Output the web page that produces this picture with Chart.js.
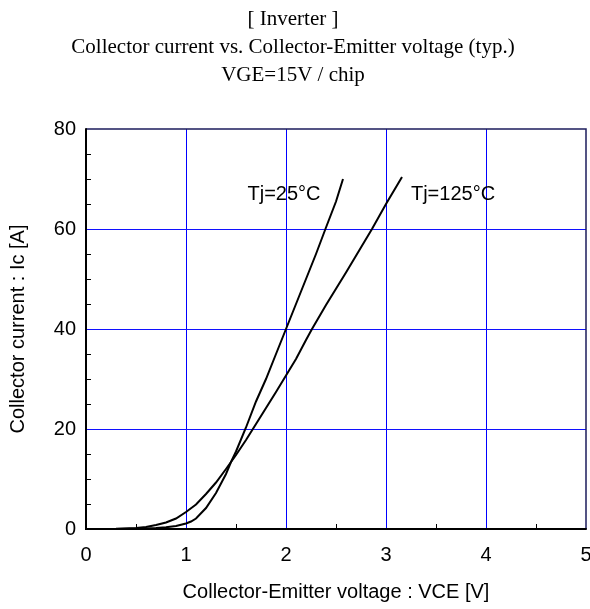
<!DOCTYPE html>
<html>
<head>
<meta charset="utf-8">
<script src="https://cdn.jsdelivr.net/npm/chart.js@4/dist/chart.umd.min.js"></script>
<style>
  html, body { margin: 0; padding: 0; background: #fff; overflow: hidden; }
  #c { display: block; }
</style>
</head>
<body>
<canvas id="c" width="590" height="609"></canvas>
<script>
// ---- data ----
const titleLines = ["[ Inverter ]", "Collector current vs. Collector-Emitter voltage (typ.)", "VGE=15V / chip"];
const xTitle = "Collector-Emitter voltage : VCE [V]";
const yTitle = "Collector current : Ic [A]";
const xTickValues = [0, 1, 2, 3, 4, 5];
const yTickValues = [0, 20, 40, 60, 80];
const xMinorTicks = [0.5, 1.5, 2.5, 3.5, 4.5];
const yMinorTicks = [5, 10, 15, 25, 30, 35, 45, 50, 55, 65, 70, 75];

const vce25 = [0, 0.3, 0.5, 0.6, 0.7, 0.8, 0.9, 1.0, 1.05, 1.1, 1.2, 1.3, 1.4, 1.45, 1.5, 1.6, 1.7, 1.8, 1.9, 2.0, 2.1, 2.2, 2.3, 2.4, 2.5, 2.57];
const ic25  = [0, 0, 0.05, 0.1, 0.2, 0.35, 0.6, 1.1, 1.5, 2.1, 4.2, 7.2, 11.0, 13.4, 15.5, 20.3, 25.5, 30.0, 35.0, 40.0, 45.0, 50.0, 55.0, 60.3, 65.5, 70.0];

const vce125 = [0, 0.3, 0.5, 0.6, 0.7, 0.8, 0.9, 1.0, 1.1, 1.2, 1.3, 1.4, 1.45, 1.5, 1.6, 1.7, 1.8, 1.9, 2.0, 2.1, 2.2, 2.26, 2.4, 2.6, 2.86, 3.0, 3.16];
const ic125  = [0, 0.05, 0.2, 0.4, 0.8, 1.3, 2.1, 3.4, 4.9, 7.0, 9.3, 12.0, 13.4, 14.8, 17.8, 21.0, 24.2, 27.4, 30.7, 34.0, 37.8, 40.0, 44.8, 51.3, 60.0, 65.0, 70.4];

const seriesLabels = ["Tj=25°C", "Tj=125°C"];
const labelAnchorV = [1.98, 3.67];
const labelAnchorI = [67, 67];

// ---- build ----
const toPts = (xs, ys) => xs.map((x, i) => ({ x: x, y: ys[i] }));
const SANS = '"Liberation Sans", Arial, sans-serif';
const SERIF = '"Liberation Serif", "Times New Roman", serif';
const NONE = 'rgba(0,0,0,0)';
const edgeHidden = (vals, col) => vals.map((v, i) => (i === 0 || i === vals.length - 1) ? NONE : col);

const decorPlugin = {
  id: 'decor',
  beforeDatasetsDraw(chart) {
    const { ctx, chartArea: a, scales: { x, y } } = chart;
    ctx.save();
    // minor ticks (inward)
    ctx.strokeStyle = '#000';
    ctx.lineWidth = 1;
    ctx.beginPath();
    yMinorTicks.forEach(v => {
      const py = Math.round(y.getPixelForValue(v)) + 0.5;
      ctx.moveTo(a.left, py); ctx.lineTo(a.left + 5, py);
    });
    xMinorTicks.forEach(v => {
      const px = Math.round(x.getPixelForValue(v)) + 0.5;
      ctx.moveTo(px, a.bottom); ctx.lineTo(px, a.bottom - 5);
    });
    ctx.stroke();
    // frame: top & right dark navy, left & bottom black
    ctx.strokeStyle = '#1c1c5c';
    ctx.lineWidth = 1.5;
    ctx.beginPath();
    ctx.moveTo(a.left, a.top); ctx.lineTo(a.right, a.top); ctx.lineTo(a.right, a.bottom);
    ctx.stroke();
    ctx.strokeStyle = '#000';
    ctx.lineWidth = 2;
    ctx.beginPath();
    ctx.moveTo(a.left, a.top - 0.75); ctx.lineTo(a.left, a.bottom); ctx.lineTo(a.right + 0.75, a.bottom);
    ctx.stroke();
    ctx.restore();
  },
  afterDatasetsDraw(chart) {
    const { ctx, scales: { x, y } } = chart;
    ctx.save();
    ctx.fillStyle = '#000';
    ctx.font = '20px ' + SANS;
    ctx.textAlign = 'center';
    ctx.textBaseline = 'middle';
    seriesLabels.forEach((t, i) => {
      ctx.fillText(t, x.getPixelForValue(labelAnchorV[i]), y.getPixelForValue(labelAnchorI[i]));
    });
    ctx.restore();
  }
};

new Chart(document.getElementById('c'), {
  type: 'line',
  data: {
    datasets: [
      { label: seriesLabels[0], data: toPts(vce25, ic25), borderColor: '#000', borderWidth: 2, pointRadius: 0, fill: false, tension: 0 },
      { label: seriesLabels[1], data: toPts(vce125, ic125), borderColor: '#000', borderWidth: 2, pointRadius: 0, fill: false, tension: 0 }
    ]
  },
  options: {
    responsive: false,
    animation: false,
    events: [],
    layout: { padding: { right: 4 } },
    plugins: {
      legend: { display: false },
      tooltip: { enabled: false },
      title: {
        display: true,
        text: titleLines,
        color: '#000',
        font: { family: SERIF, size: 21, weight: 'normal', lineHeight: 28 / 21 },
        padding: { top: 5, bottom: 40 }
      }
    },
    scales: {
      x: {
        type: 'linear',
        min: 0, max: 5,
        afterBuildTicks: (s) => { s.ticks = xTickValues.map(v => ({ value: v })); },
        ticks: { color: '#000', font: { family: SANS, size: 20 }, padding: 14, maxRotation: 0 },
        grid: { color: edgeHidden(xTickValues, '#0000ff'), lineWidth: 1, drawTicks: false },
        border: { display: false },
        title: { display: true, text: xTitle, color: '#000', font: { family: SANS, size: 20 }, padding: { top: 0, bottom: 5 } },
        afterFit: (s) => { s.height = 80; s.paddingLeft = 0; s.paddingRight = 0; }
      },
      y: {
        type: 'linear',
        min: 0, max: 80,
        afterBuildTicks: (s) => { s.ticks = yTickValues.map(v => ({ value: v })); },
        ticks: { color: '#000', font: { family: SANS, size: 20 }, padding: 10 },
        grid: { color: edgeHidden(yTickValues, '#1010ff'), lineWidth: 1, drawTicks: false },
        border: { display: false },
        title: { display: true, text: yTitle, color: '#000', font: { family: SANS, size: 20 }, padding: { top: 6, bottom: 0 } },
        afterFit: (s) => { s.width = 86; s.paddingTop = 0; s.paddingBottom = 0; }
      }
    }
  },
  plugins: [decorPlugin]
});
</script>
</body>
</html>
